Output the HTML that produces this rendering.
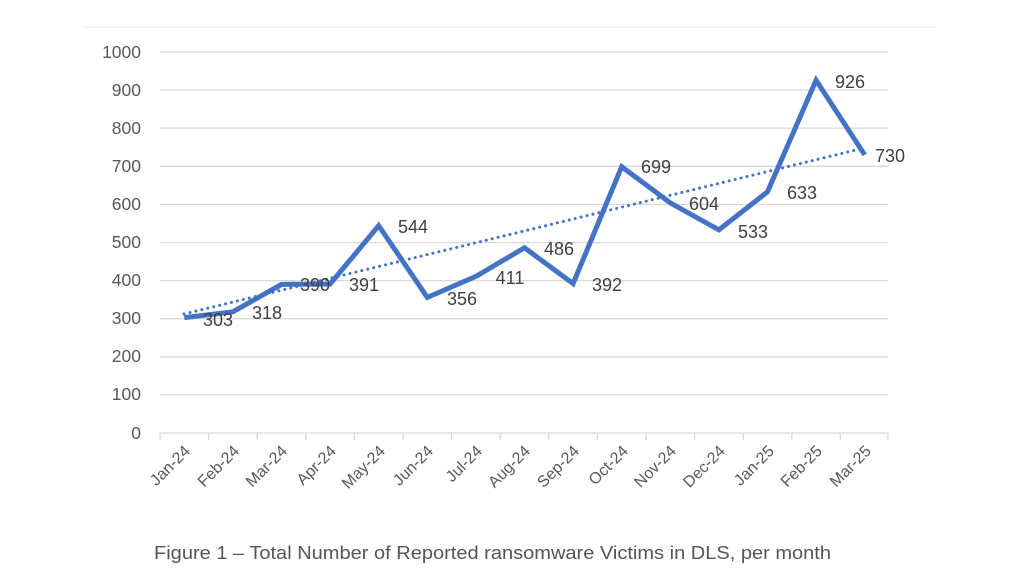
<!DOCTYPE html>
<html><head><meta charset="utf-8"><style>html,body{margin:0;padding:0;background:#fff}svg{display:block}</style></head>
<body>
<svg width="1024" height="576" viewBox="0 0 1024 576" xmlns="http://www.w3.org/2000/svg" font-family="'Liberation Sans', sans-serif">
<line x1="84" y1="27" x2="935" y2="27" stroke="#e3e3e3" stroke-width="1"/>
<g stroke="#d9d9d9" stroke-width="1.3">
<line x1="160" y1="52" x2="888" y2="52"/><line x1="160" y1="90.1" x2="888" y2="90.1"/>
<line x1="160" y1="128.2" x2="888" y2="128.2"/><line x1="160" y1="166.3" x2="888" y2="166.3"/>
<line x1="160" y1="204.4" x2="888" y2="204.4"/><line x1="160" y1="242.5" x2="888" y2="242.5"/>
<line x1="160" y1="280.6" x2="888" y2="280.6"/><line x1="160" y1="318.7" x2="888" y2="318.7"/>
<line x1="160" y1="356.8" x2="888" y2="356.8"/><line x1="160" y1="394.9" x2="888" y2="394.9"/>
<line x1="160" y1="433" x2="888" y2="433"/>
<path d="M160 433v7M208.6 433v7M257.2 433v7M305.8 433v7M354.4 433v7M403 433v7M451.6 433v7M500.2 433v7M548.8 433v7M597.4 433v7M646 433v7M694.6 433v7M743.2 433v7M791.8 433v7M840.4 433v7M888 433v7"/>
</g>
<g font-size="17.5" fill="#595959" text-anchor="end">
<text x="141" y="58">1000</text><text x="141" y="96">900</text><text x="141" y="134">800</text>
<text x="141" y="172">700</text><text x="141" y="210">600</text><text x="141" y="248">500</text>
<text x="141" y="286">400</text><text x="141" y="324">300</text><text x="141" y="362">200</text>
<text x="141" y="400">100</text><text x="141" y="439">0</text>
</g>
<g font-size="16" fill="#595959" text-anchor="end">
<text transform="translate(191,452) rotate(-45)">Jan-24</text>
<text transform="translate(240,452) rotate(-45)">Feb-24</text>
<text transform="translate(288,452) rotate(-45)">Mar-24</text>
<text transform="translate(337,452) rotate(-45)">Apr-24</text>
<text transform="translate(386,452) rotate(-45)">May-24</text>
<text transform="translate(434,452) rotate(-45)">Jun-24</text>
<text transform="translate(483,452) rotate(-45)">Jul-24</text>
<text transform="translate(531,452) rotate(-45)">Aug-24</text>
<text transform="translate(580,452) rotate(-45)">Sep-24</text>
<text transform="translate(629,452) rotate(-45)">Oct-24</text>
<text transform="translate(677,452) rotate(-45)">Nov-24</text>
<text transform="translate(726,452) rotate(-45)">Dec-24</text>
<text transform="translate(775,452) rotate(-45)">Jan-25</text>
<text transform="translate(823,452) rotate(-45)">Feb-25</text>
<text transform="translate(872,452) rotate(-45)">Mar-25</text>
</g>
<line x1="184" y1="314" x2="864" y2="148" stroke="#4472C4" stroke-width="3" stroke-dasharray="0.1 6" stroke-linecap="round"/>
<polyline fill="none" stroke="#4472C4" stroke-width="5" stroke-linejoin="miter" points="184.3,317.6 232.9,311.8 281.5,284.4 330.1,284 378.7,225.7 427.3,297.4 475.9,276.4 524.5,247.8 573.1,283.6 621.7,166.7 670.3,202.9 718.9,229.9 767.5,191.8 816.1,80.2 864.7,154.9"/>
<g font-size="18" fill="#404040" text-anchor="middle">
<text x="218" y="326">303</text><text x="267" y="319">318</text>
<text x="315" y="291">390</text><text x="364" y="291">391</text>
<text x="413" y="233">544</text><text x="462" y="305">356</text>
<text x="510" y="284">411</text><text x="559" y="255">486</text>
<text x="607" y="291">392</text><text x="656" y="173">699</text>
<text x="704" y="210">604</text><text x="753" y="238">533</text>
<text x="802" y="199">633</text><text x="850" y="88">926</text>
<text x="890" y="162">730</text>
</g>
<text x="154" y="559" font-size="18" fill="#555" textLength="677" lengthAdjust="spacingAndGlyphs">Figure 1 – Total Number of Reported ransomware Victims in DLS, per month</text>
</svg>
</body></html>
